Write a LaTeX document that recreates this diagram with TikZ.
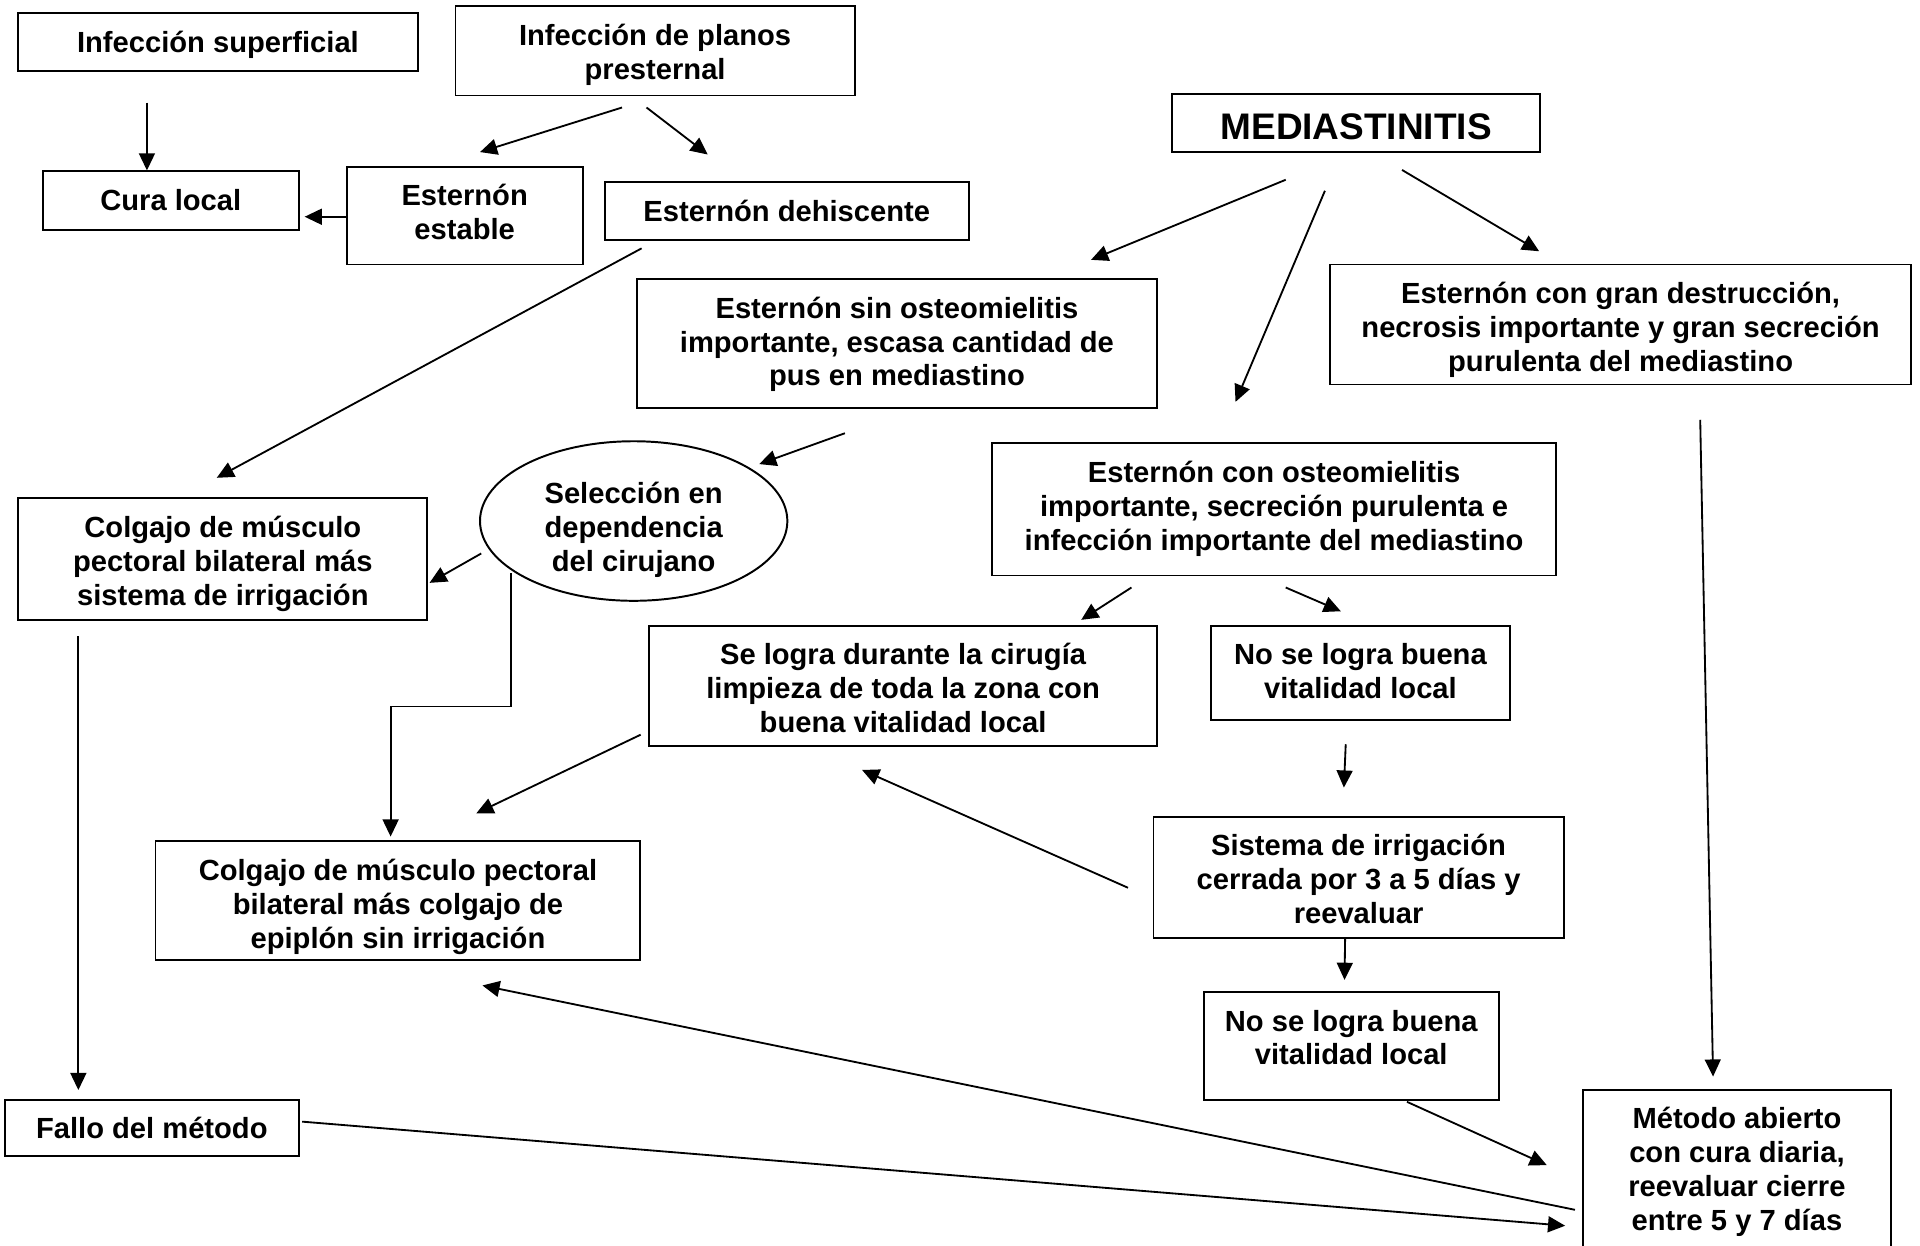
\documentclass[tikz,border=0pt]{standalone}
\usepackage{fontspec}
\setmainfont{Liberation Sans}
\usetikzlibrary{arrows.meta,shapes.geometric}
\newcommand{\tb}[4][16pt]{\parbox[t][#3][t]{#2}{\centering\rule{0pt}{#1}#4}}
\begin{document}
\begin{tikzpicture}[x=0.5pt,y=-0.5pt,
  box/.style={draw,line width=0.8pt,inner sep=0pt,
    font=\fontsize{11.9}{13.8}\selectfont\bfseries},
  arr/.style={line width=0.75pt,-{Triangle[length=7pt,width=6.5pt]}},
]
\fill[white] (0,0) rectangle (1568,1017);
\useasboundingbox (0,0) rectangle (1568,1017);

\node[box] (sup) at (178,34.5) {\tb{163pt}{23.5pt}{Infección superficial}};
\node[box] (pre) at (535,41.5) {\tb{163pt}{36.5pt}{Infección de planos\\presternal}};
\node[box,font=\fontsize{15.1}{18}\selectfont\bfseries] (med) at (1107.5,100.5) {\tb[18.5pt]{150.5pt}{23.5pt}{MEDIASTINITIS}};
\node[box] (cura) at (139.5,164) {\tb{104.5pt}{24pt}{Cura local}};
\node[box] (est) at (379.5,176) {\tb{96.5pt}{40pt}{Esternón\\estable}};
\node[box] (deh) at (642.5,172.5) {\tb{148.5pt}{23.5pt}{Esternón dehiscente}};
\node[box] (sin) at (732.5,280.5) {\tb{212.5pt}{52.5pt}{Esternón sin osteomielitis\\importante, escasa cantidad de\\pus en mediastino}};
\node[box] (gran) at (1323.5,265) {\tb{237.5pt}{49pt}{Esternón con gran destrucción,\\necrosis importante y gran secreción\\purulenta del mediastino}};
\node[box,ellipse,align=center,minimum width=125.5pt,minimum height=63.5pt] (sel) at (517.5,425.5) {\rule{0pt}{16pt}Selección en\\dependencia\\del cirujano};
\node[box] (col1) at (182,456.5) {\tb{167pt}{49.5pt}{Colgajo de músculo\\pectoral bilateral más\\sistema de irrigación}};
\node[box] (con) at (1040.5,416) {\tb{230.5pt}{54pt}{Esternón con osteomielitis\\importante, secreción purulenta e\\infección importante del mediastino}};
\node[box] (logra) at (737.5,560) {\tb{207.5pt}{49pt}{Se logra durante la cirugía\\limpieza de toda la zona con\\buena vitalidad local}};
\node[box] (nol1) at (1111,549.5) {\tb{122pt}{38.5pt}{No se logra buena\\vitalidad local}};
\node[box] (irr) at (1109.5,716.5) {\tb{167.5pt}{49.5pt}{Sistema de irrigación\\cerrada por 3 a 5 días y\\reevaluar}};
\node[box] (col2) at (325,735.5) {\tb{198pt}{48.5pt}{Colgajo de músculo pectoral\\bilateral más colgajo de\\epiplón sin irrigación}};
\node[box] (nol2) at (1103.5,854) {\tb{120.5pt}{44pt}{No se logra buena\\vitalidad local}};
\node[box] (fallo) at (124,921) {\tb{120pt}{23pt}{Fallo del método}};
\node[box] (met) at (1418.5,955) {\tb{125.5pt}{65pt}{Método abierto\\con cura diaria,\\reevaluar cierre\\entre 5 y 7 días}};

% arrows
\draw[arr] ([shift={(-58,25)}]sup.south) -- ([shift={(-19.5,0)}]cura.north);
\draw[arr] ([shift={(-27,9)}]pre.south) -- ([shift={(12.5,-11)}]est.north);
\draw[arr] ([shift={(-7,9)}]pre.south) -- ([shift={(-64.5,-22)}]deh.north);
\draw[arr] ([shift={(0,1)}]est.west) -- ([shift={(4,13)}]cura.east);
\draw[arr] ([shift={(-118.5,6)}]deh.south) -- ([shift={(-5,-16)}]col1.north);
\draw[arr] ([shift={(-57.5,22)}]med.south) -- ([shift={(158.5,-15)}]sin.north);
\draw[arr] ([shift={(-25.5,31)}]med.south) -- ([shift={(-31.5,-33)}]con.north);
\draw[arr] ([shift={(37.5,14)}]med.south) -- ([shift={(-66.5,-10)}]gran.north);
\draw[arr] ([shift={(-42.5,20)}]sin.south) -- ([shift={(102.5,-46.5)}]sel.center);
\draw[arr] ([shift={(-124.5,26.5)}]sel.center) -- ([shift={(1,19.5)}]col1.east);
\draw[arr] ([shift={(-100.5,42.5)}]sel.center) -- ++(0,109) -| ([shift={(-6,-3)}]col2.north);
\draw[arr] ([shift={(-116.5,9)}]con.south) -- ([shift={(145.5,-4)}]logra.north);
\draw[arr] ([shift={(9.5,9)}]con.south) -- ([shift={(-16,-11)}]nol1.north);
\draw[arr] ([shift={(-12,19)}]nol1.south) -- ([shift={(-12,-23)}]irr.north);
\draw[arr] ([shift={(-20,8.5)}]irr.west) -- ([shift={(-33.5,19)}]logra.south);
\draw[arr] ([shift={(-6,40)}]logra.west) -- ([shift={(64,-22)}]col2.north);
\draw[arr] ([shift={(-11,0)}]irr.south) -- ([shift={(-5.5,-9)}]nol2.north);
\draw[arr] ([shift={(45.5,1)}]nol2.south) -- ([shift={(-29,-3.5)}]met.west);
\draw[arr] ([shift={(65,28)}]gran.south) -- ([shift={(-19.5,-10)}]met.north);
\draw[arr] ([shift={(-118,13)}]col1.south) -- ([shift={(-60,-7)}]fallo.north);
\draw[arr] ([shift={(2,-5)}]fallo.east) -- ([shift={(-14,46)}]met.west);
\draw[arr] ([shift={(-6,33)}]met.west) -- ([shift={(69,20)}]col2.south);
\end{tikzpicture}
\end{document}
